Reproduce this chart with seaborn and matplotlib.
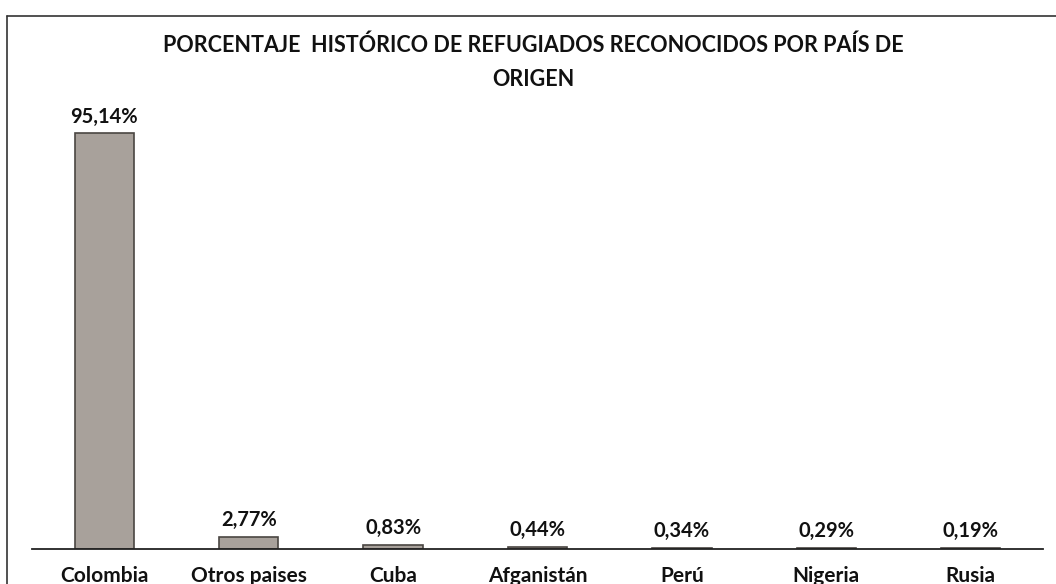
import matplotlib
matplotlib.use("Agg")
import matplotlib.pyplot as plt
from matplotlib.lines import Line2D
import pandas as pd
import seaborn as sns

# data
paises = ['Colombia', 'Otros paises', 'Cuba', 'Afganistán', 'Perú', 'Nigeria', 'Rusia']
porcentajes = [95.14, 2.77, 0.83, 0.44, 0.34, 0.29, 0.19]
etiquetas = ['95,14%', '2,77%', '0,83%', '0,44%', '0,34%', '0,29%', '0,19%']

df = pd.DataFrame({'pais': paises, 'pct': porcentajes})

sns.set_style('white')
plt.rcParams['font.family'] = ['Lato', 'DejaVu Sans']

fig = plt.figure(figsize=(10.56, 5.84), dpi=100)
ax = fig.add_axes([0.0303, 0.0599, 0.9574, 0.748])

sns.barplot(data=df, x='pais', y='pct', color='#a8a19b', width=0.41,
            edgecolor='#4a4642', linewidth=1.2, saturation=1, ax=ax)

ax.set_xlim(-0.5, 6.5)
ax.set_ylim(0, 100)
ax.set_xlabel('')
ax.set_ylabel('')
ax.set_yticks([])
for s in ['top', 'right', 'left']:
    ax.spines[s].set_visible(False)
ax.spines['bottom'].set_color('#222222')
ax.spines['bottom'].set_linewidth(1.3)
ax.tick_params(axis='x', length=0, pad=12, labelsize=15, colors='#111111')
for lbl in ax.get_xticklabels():
    lbl.set_fontweight('bold')

ax.bar_label(ax.containers[0], labels=etiquetas, padding=5,
             fontsize=14.5, fontweight='bold', color='#111111')

fig.text(0.505, 0.893, 'PORCENTAJE  HISTÓRICO DE REFUGIADOS RECONOCIDOS POR PAÍS DE\nORIGEN',
         ha='center', va='center', fontsize=15.5, fontweight='bold',
         color='#111111', linespacing=1.75)

# scanned frame: only top and left edges are visible
fig.add_artist(Line2D([7/1056, 7/1056], [0, 1 - 16/584], transform=fig.transFigure,
                      color='#333333', lw=1.2))
fig.add_artist(Line2D([7/1056, 1], [1 - 16/584, 1 - 16/584], transform=fig.transFigure,
                      color='#333333', lw=1.2))

fig.savefig('out.png', dpi=100)
